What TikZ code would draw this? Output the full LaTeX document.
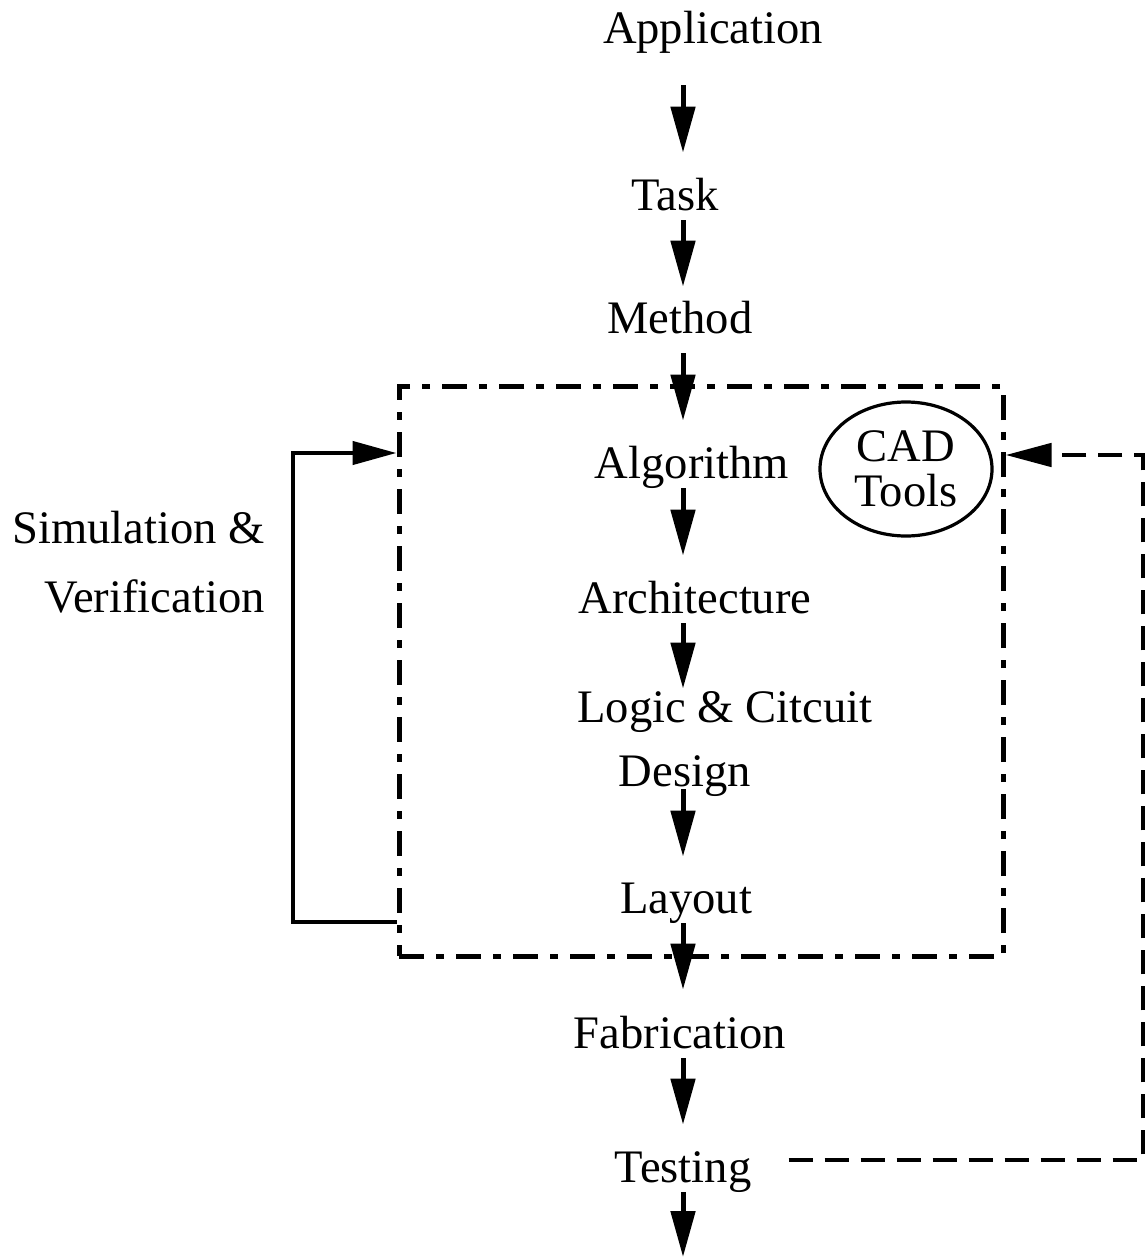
\documentclass[tikz,border=0pt]{standalone}
\usepackage{fontspec}
\setmainfont{Liberation Serif}
\usetikzlibrary{arrows.meta,shapes.geometric}

\tikzset{
  lbl/.style={anchor=base, inner sep=0pt, text height=16pt, text depth=5pt,
    font=\fontsize{23.3pt}{28pt}\selectfont},
  flow/.style={draw, line width=2.5pt, -{Triangle[length=23pt,width=12pt]}},
  frame/.style={draw, line width=2.5pt, minimum width=302pt, minimum height=285pt,
    inner sep=0pt, dash pattern=on 12.5pt off 6pt on 4pt off 6pt},
  simline/.style={draw, line width=2.2pt, -{Triangle[length=22pt,width=11.5pt]}},
  testline/.style={draw, line width=2.4pt, dash pattern=on 12pt off 6pt,
    -{Triangle[length=23pt,width=11.5pt]}},
  cadtool/.style={ellipse, draw, line width=1.6pt, minimum width=86pt,
    minimum height=67pt, inner sep=0pt, align=center,
    font=\fontsize{23.3pt}{22.5pt}\selectfont}
}

\begin{document}
\begin{tikzpicture}[x=0.5pt, y=-0.5pt]
        \useasboundingbox (0,0) rectangle (1147,1258);
        \coordinate (spine) at (683,0);
        \node[frame] (core) at (701,671) {};
        \node[lbl] (app) at (713,43) {Application};
        \node[lbl] (task) at (675,210) {Task};
        \node[lbl] (meth) at (680,333) {Method};
        \node[lbl] (alg) at (692,478) {Algorithm};
        \node[lbl] (arch) at (695,613) {Architecture};
        \node[lbl] (logic) at (725,722) {Logic \& Citcuit};
        \node[lbl] (design) at (685,786) {Design};
        \node[lbl] (layout) at (686,913) {Layout};
        \node[lbl] (fab) at (680,1048) {Fabrication};
        \node[lbl] (test) at (683,1182) {Testing};
        \coordinate (done) at (683,1257);
        \node[cadtool] (cad) at (906,469) {CAD\\Tools};
        \node[lbl, anchor=base east] (sim) at (265,543) {Simulation \&};
        \node[lbl, anchor=base east] (verif) at (265,612) {Verification};
        \draw[flow, shorten <=16pt, shorten >=12.5pt] (app.south -| spine) -- (task.north -| spine);
        \draw[flow, shorten >=7pt] (task.south -| spine) -- (meth.north -| spine);
        \draw[flow, shorten <=5pt, shorten >=12.5pt] (meth.south -| spine) -- (alg.north -| spine);
        \draw[flow, shorten >=12.5pt] (alg.south -| spine) -- (arch.north -| spine);
        \draw[flow, shorten >=0.5pt] (arch.south -| spine) -- (logic.north -| spine);
        \draw[flow, shorten <=-3.5pt, shorten >=12pt] (design.south -| spine) -- (layout.north -| spine);
        \draw[flow, shorten >=13pt] (layout.south -| spine) -- (fab.north -| spine);
        \draw[flow, shorten >=12.5pt] (fab.south -| spine) -- (test.north -| spine);
        \draw[flow] (test.south -| spine) -- (done);
        % feedback loops
        \coordinate (simlo) at (293,922);
        \coordinate (simhi) at (293,453);
        \draw[simline] (core.west |- simlo) -- (simlo) -- (simhi) -- (core.west |- simhi);
        \coordinate (tstcorner) at (1143,1160);
        \coordinate (cadcorner) at (1143,455);
        \draw[testline, shorten <=18.5pt] (test.east |- tstcorner) -- (tstcorner) -- (cadcorner) -- (core.east |- cadcorner);
\end{tikzpicture}
\end{document}
